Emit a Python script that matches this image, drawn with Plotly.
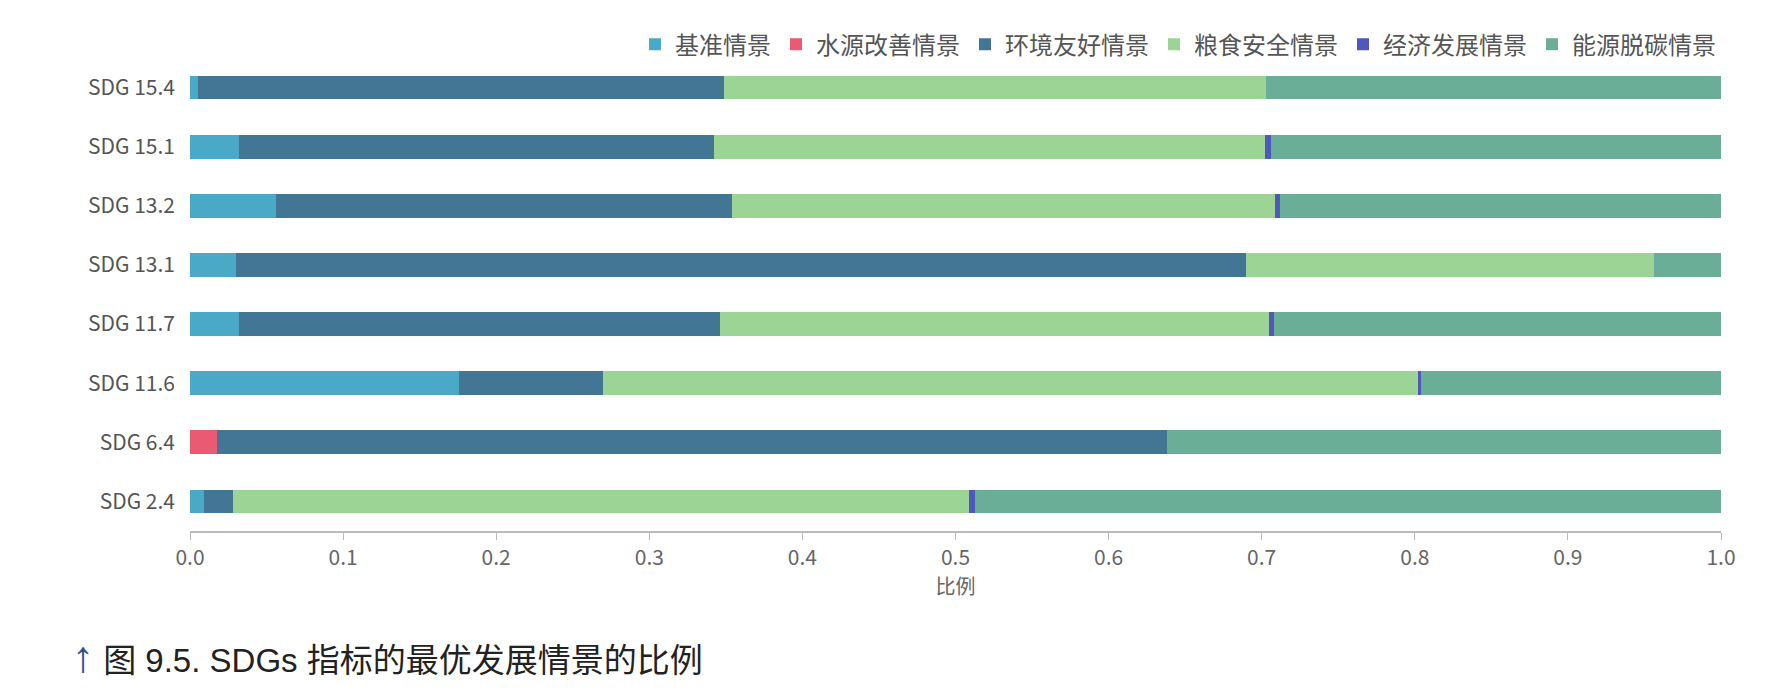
import plotly.graph_objects as go

categories = ["SDG 15.4", "SDG 15.1", "SDG 13.2", "SDG 13.1", "SDG 11.7", "SDG 11.6", "SDG 6.4", "SDG 2.4"]
series_names = ["基准情景", "水源改善情景", "环境友好情景", "粮食安全情景", "经济发展情景", "能源脱碳情景"]
baseline    = [0.005, 0.032, 0.056, 0.030, 0.032, 0.176, 0.000, 0.009]
water       = [0.000, 0.000, 0.000, 0.000, 0.000, 0.000, 0.0175, 0.000]
environment = [0.344, 0.310, 0.298, 0.660, 0.314, 0.094, 0.6205, 0.019]
food        = [0.354, 0.360, 0.355, 0.266, 0.359, 0.532, 0.000, 0.481]
economy     = [0.000, 0.004, 0.003, 0.000, 0.003, 0.002, 0.000, 0.004]
energy      = [0.297, 0.294, 0.288, 0.044, 0.292, 0.196, 0.362, 0.487]
colors = ["#4aa9c6", "#ea5a72", "#437594", "#9cd495", "#5058bd", "#6aae97"]
x_ticks = [0.0, 0.1, 0.2, 0.3, 0.4, 0.5, 0.6, 0.7, 0.8, 0.9, 1.0]

series_values = [baseline, water, environment, food, economy, energy]

fig = go.Figure()
for name, vals, col in zip(series_names, series_values, colors):
    fig.add_trace(go.Bar(
        y=categories, x=vals, name=name, orientation="h",
        marker=dict(color=col, line=dict(width=0)),
    ))

W, H = 1783, 695
ml, mr, mt, mb = 190, 62, 58, 164
fig.update_layout(
    width=W, height=H,
    margin=dict(l=ml, r=mr, t=mt, b=mb, pad=0),
    barmode="stack", bargap=0.6,
    paper_bgcolor="white", plot_bgcolor="white",
    font=dict(family="Noto Sans CJK SC, Noto Sans", color="#555555", size=20),
    showlegend=True,
    legend=dict(orientation="h", x=1.0, xanchor="right", y=1.028, yanchor="middle",
                font=dict(size=24, color="#555555"), traceorder="normal",
                itemwidth=30, bgcolor="rgba(0,0,0,0)"),
    xaxis=dict(range=[0, 1.0], tickvals=x_ticks, tickformat=".1f",
               showgrid=False, zeroline=False, showline=True, linecolor="#bbbbbb",
               linewidth=1.5, ticks="outside", ticklen=7, tickcolor="#bbbbbb",
               tickfont=dict(size=21, color="#666666"),
               title=dict(text="比例", font=dict(size=20, color="#666666"), standoff=10)),
    yaxis=dict(categoryorder="array", categoryarray=categories, autorange="reversed",
               showgrid=False, zeroline=False, showline=False, ticks="",
               ticklabelstandoff=14,
               tickfont=dict(size=21, color="#555555")),
)

fig.add_annotation(
    xref="paper", yref="paper",
    x=(70 - ml) / (W - ml - mr), y=-(656 - (H - mb)) / (H - mt - mb),
    xanchor="left", yanchor="middle", showarrow=False,
    text="<span style='color:#2e4f8e;font-size:44px'>↑</span> 图 9.5. SDGs 指标的最优发展情景的比例",
    font=dict(family="Liberation Sans, Noto Sans CJK SC", size=33, color="#222222"),
)

fig.write_html("out.html")
